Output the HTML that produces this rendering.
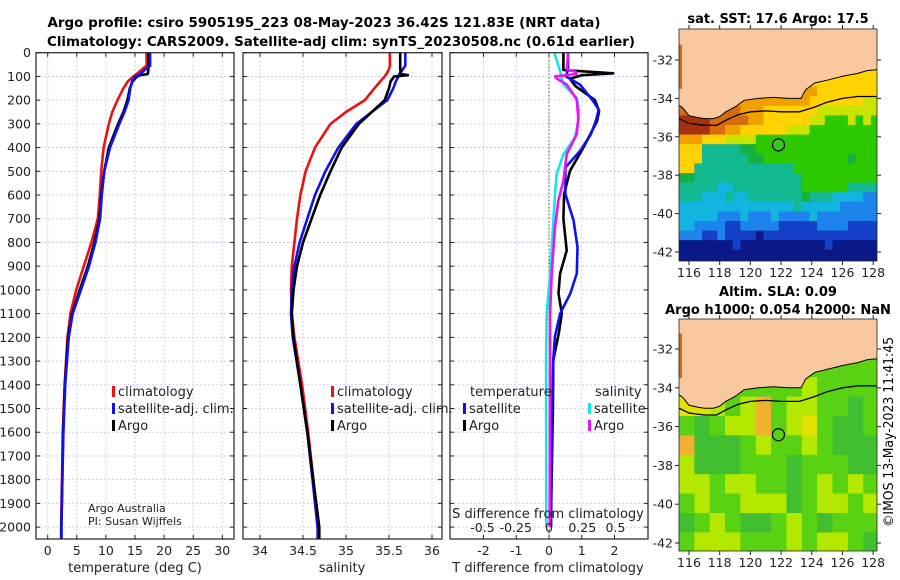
<!DOCTYPE html>
<html><head><meta charset="utf-8"><style>
html,body{margin:0;padding:0;background:#fff;}
svg{display:block;font-family:"DejaVu Sans","Liberation Sans",sans-serif;}
</style></head><body>
<svg id="fig" width="900" height="580" viewBox="0 0 900 580">
<g id="p1"></g>
<g id="p2"></g>
<g id="p3"></g>
<g id="m1"></g>
<g id="m2"></g>
<text x="324" y="27" font-size="13" font-weight="bold" textLength="553" lengthAdjust="spacingAndGlyphs" text-anchor="middle">Argo profile: csiro 5905195_223 08-May-2023 36.42S 121.83E (NRT data)</text>
<text x="341" y="46" font-size="13" font-weight="bold" textLength="588" lengthAdjust="spacingAndGlyphs" text-anchor="middle">Climatology: CARS2009. Satellite-adj clim: synTS_20230508.nc (0.61d earlier)</text>
<text x="778" y="23" font-size="13" font-weight="bold" text-anchor="middle">sat. SST: 17.6 Argo: 17.5</text>
<text x="778" y="296" font-size="13" font-weight="bold" text-anchor="middle">Altim. SLA: 0.09</text>
<text x="778" y="314" font-size="13" font-weight="bold" text-anchor="middle">Argo h1000: 0.054 h2000: NaN</text>
<text transform="translate(893,432) rotate(-90)" font-size="13" text-anchor="middle" textLength="190" lengthAdjust="spacingAndGlyphs">©IMOS 13-May-2023 11:41:45</text>
</svg>
<script>
// ---------- profile data ----------
const depthTS = [0,55,70,90,95,100,120,150,200,250,300,400,500,600,700,800,900,1000,1100,1200,1400,1600,1800,2000,2050];
const tempClim = [17.0,17.0,16.2,15.3,15.0,14.7,13.8,13.0,12.0,11.1,10.5,9.6,9.2,8.95,8.6,7.5,6.2,4.9,3.9,3.4,2.9,2.6,2.45,2.3,2.3];
const tempSat  = [17.6,17.6,16.8,15.9,15.5,15.0,14.5,14.2,13.9,13.2,12.3,10.7,9.7,9.3,9.0,8.2,7.1,5.7,4.3,3.6,3.0,2.7,2.5,2.35,2.35];
const tempArgo = [17.3,17.3,17.3,17.2,15.8,15.4,14.6,14.1,13.7,13.0,12.1,10.5,9.7,9.2,8.9,8.0,6.9,5.5,4.2,3.5,2.95,2.65,2.5,2.35,2.35];
const salClim = [35.51,35.51,35.5,35.47,35.46,35.45,35.4,35.33,35.22,35.0,34.82,34.64,34.53,34.47,34.43,34.40,34.37,34.36,34.37,34.40,34.49,34.56,34.62,34.67,34.69];
const salSat  = [35.69,35.69,35.66,35.62,35.62,35.61,35.58,35.55,35.48,35.3,35.12,34.91,34.76,34.64,34.55,34.46,34.40,34.37,34.36,34.38,34.47,34.55,34.61,34.67,34.67];
const salArgo = [35.63,35.63,35.63,35.64,35.72,35.56,35.52,35.5,35.45,35.3,35.15,34.95,34.82,34.70,34.60,34.50,34.43,34.39,34.37,34.39,34.47,34.55,34.62,34.69,34.69];
const dTsatDepth = [0,70,100,135,204,240,288,344,414,484,596,708,820,931,1015,1100,1197,1295,1500,1800,2000];
const dTsatVal   = [0.58,0.58,0.52,0.95,1.35,1.52,1.43,1.28,0.95,0.5,0.5,0.75,0.87,0.85,0.65,0.34,0.18,0.13,0.1,0.07,0.06];
const dTargoDepth = [0,73,80,87,95,110,140,200,246,288,400,498,596,700,834,931,1015,1100,1183,1295,1500,1800,2000];
const dTargoVal   = [0.44,0.44,1.2,1.96,1.0,0.64,0.8,1.40,1.53,1.47,1.05,0.64,0.46,0.44,0.54,0.34,0.29,0.39,0.30,0.13,0.12,0.08,0.06];
const dSsatDepth = [0,70,134,190,232,288,358,428,512,596,708,931,1100,1295,2000];
const dSsatVal   = [0.04,0.08,0.108,0.208,0.223,0.22,0.195,0.108,0.058,0.045,0.033,0.008,-0.017,-0.022,-0.02];
const dSargoDepth = [0,70,80,90,100,110,134,197,274,344,428,540,624,736,931,1100,1300,2000];
const dSargoVal   = [0.145,0.133,0.2,0.208,0.045,0.06,0.133,0.208,0.22,0.208,0.133,0.108,0.07,0.045,0.02,0.008,0.008,0.005];
const depthTicks = [0,100,200,300,400,500,600,700,800,900,1000,1100,1200,1300,1400,1500,1600,1700,1800,1900,2000];
const tempTicks = [0,5,10,15,20,25,30];
const salTicks = [34,34.5,35,35.5,36];
const salTickLabels = ["34","34.5","35","35.5","36"];
const dTTicks = [-2,-1,0,1,2];
const dSTicks = [-0.5,-0.25,0,0.25,0.5];
const dSTickLabels = ["-0.5","-0.25","0","0.25","0.5"];
// ---------- map data (0.5 deg cells for SST, 1 deg cells for SLA) ----------
const sstRows = [
"yyyyyyyyyyyyyyyyyyyyyyyyyy","yyyyyyyyyyyyyyyyyyyyyyyyyy","yyyyyyyyyyyyyyyyyyyyyyyyyy",
"yyyyyyyyyyyyyyyyyyyyyyyyyy","yyyyyyyyyyyyyyyyyyyyyyyyyy","yyyyyyyyyyyyyyyyyyyyyyyyyy",
"yyyyyyyyyyyyyyyyOOyyyyyyyy","OOOOOOOOOOOOOOOOOyyyyyyyYY","ooooooooOOOyyyyyyyYYYYYYYY",
"rrrroooooOOyyyyyyYYgggYgYg","rrrrooOOyyyyyyYYYggggggggg","OOOyyyYYYYgggggggggggggggg",
"yyytttttGGgggggggggggggggg","yyyttttttGGgggggggggggGggg","yytttttttttttttggggggggggg",
"GGttttttttttttttgggggggggg","tttttcctttttttttggggggtttt","tttccctcctttttttGtttccccbb",
"ccccccccccccccctcccccbbbbb","cccccbbbcbbbcbbbbcbbbbbbbb","ccbbbbBBbbbbbBBBBBbbbbBBBB",
"bbbBBbBBBBnBBBBBBBBBBBBBBB","nnnnnnnBnnnnnnnnnnnBnnnnnn","nnnnnnnnnnnnnnnnnnnnnnnnnn","nnnnnnnnnnnnnnnnnnnnnnnnnn"];
const slaRows = [
"MMMMMMMMMMMMM","MMMMMMMMMMMMM","MMMMMMMMMMMMM","MMMMMMMMYMMMM",
"yyYMYOMYYMMGM","MGMYYOMYyMGGM","OGGGMYMMYMGGG","YGGGMMMGMMMGG",
"YYMYYMMGMYMYM","MYMMYYYGMYYMY","GMYMGGMYMGMMM","MYYYMMMYMYYMG","MYYYMMMYMYYMG"];
const coastLon = [115.35,115.6,116,116.6,117,117.6,118,118.4,119,119.6,120.5,121.5,122.5,123.3,123.6,124.2,125,126,127,127.6,128.25];
const coastLat = [-34.35,-34.5,-34.9,-35.0,-35.05,-35.05,-34.95,-34.7,-34.45,-34.1,-34.0,-33.95,-34.0,-34.0,-33.55,-33.2,-33.05,-32.85,-32.7,-32.55,-32.5];
const shelfLon = [115.35,116,117,117.8,118.5,119.2,120,121,122,123.2,124.2,125,126,127,128.25];
const shelfLat = [-35.05,-35.3,-35.4,-35.4,-35.1,-34.85,-34.7,-34.65,-34.7,-34.7,-34.45,-34.2,-34.0,-33.9,-33.9];
const argoLon = 121.83, argoLat = -36.42;
const mapLatTicks = [-32,-34,-36,-38,-40,-42];
const mapLonTicks = [116,118,120,122,124,126,128];

const NS='http://www.w3.org/2000/svg';
function mk(parent,tag,attrs){const e=document.createElementNS(NS,tag);for(const k in attrs)e.setAttribute(k,attrs[k]);parent.appendChild(e);return e;}
const yTop=52.7, pxPerM=0.2372, yBot=539;
const yD = d => yTop + d*pxPerM;

function panel(g, x0, x1, xs, gridX, name){
  const clipId='clip'+name;
  const cp=mk(g,'clipPath',{id:clipId}); mk(cp,'rect',{x:x0,y:yTop,width:x1-x0,height:yBot-yTop});
  const grid=mk(g,'g',{stroke:'#c4c4e4','stroke-width':0.8,'stroke-dasharray':'2,2'});
  
  
  gridX.forEach(v=>mk(grid,'line',{x1:xs(v),x2:xs(v),y1:yTop,y2:yBot}));
  depthTicks.forEach(d=>mk(grid,'line',{x1:x0,x2:x1,y1:yD(d),y2:yD(d)}));
  const ticks=mk(g,'g',{stroke:'#222','stroke-width':1});
  gridX.forEach(v=>{mk(ticks,'line',{x1:xs(v),x2:xs(v),y1:yBot,y2:yBot-4});mk(ticks,'line',{x1:xs(v),x2:xs(v),y1:yTop,y2:yTop+4});});
  depthTicks.forEach(d=>{mk(ticks,'line',{x1:x0,x2:x0+4,y1:yD(d),y2:yD(d)});mk(ticks,'line',{x1:x1,x2:x1-4,y1:yD(d),y2:yD(d)});});
  const lines=mk(g,'g',{'clip-path':'url(#'+clipId+')'});
  const box=mk(g,'rect',{x:x0,y:yTop,width:x1-x0,height:yBot-yTop,fill:'none',stroke:'#222','stroke-width':1.2});
  
  
  return lines;
}
function series(g, depths, vals, xs, color, w, name){
  const pts=depths.map((d,i)=>xs(vals[i]).toFixed(1)+','+yD(d).toFixed(1)).join(' ');
  const p=mk(g,'polyline',{points:pts,fill:'none',stroke:color,'stroke-width':w,'stroke-linejoin':'round'});
  
  
}
function txt(g,x,y,s,size,anchor,name,extra){
  const t=mk(g,'text',Object.assign({x:x,y:y,'font-size':size,'text-anchor':anchor||'start',fill:'#222'},extra||{}));
  t.textContent=s;
  
  
  return t;
}
function legendItem(g,x,y,color,label,name){
  const r=mk(g,'rect',{x:x,y:y-10,width:3,height:11,fill:color});
  
  
  txt(g,x+6,y,label,13,'start',name+'-label');
}

// Panel 1
const p1=document.getElementById('p1');
const xT = v => 47.7 + v*5.82;
const l1=panel(p1,36,234,xT,tempTicks,'temp');
series(l1,depthTS,tempClim,xT,'#ee1010',2.6,'temp-climatology-line');
series(l1,depthTS,tempArgo,xT,'#000',2.6,'temp-argo-line');
series(l1,depthTS,tempSat,xT,'#1010f0',2.6,'temp-satellite-line');
depthTicks.forEach(d=>txt(p1,31,yD(d)+4.5,String(d),12.5,'end','depth-tick-label'));
tempTicks.forEach(v=>txt(p1,xT(v),555,String(v),12.5,'middle','temp-tick-label'));
txt(p1,135,572,'temperature (deg C)',13,'middle','temp-axis-title');
legendItem(p1,112,396,'#ee1010','climatology','legend-temp-climatology');
legendItem(p1,112,413,'#1010f0','satellite-adj. clim.','legend-temp-satellite');
legendItem(p1,112,430,'#000','Argo','legend-temp-argo');
txt(p1,88,512,'Argo Australia',11,'start','credit-argo-australia');
txt(p1,88,525,'PI: Susan Wijffels',11,'start','credit-pi');

// Panel 2
const p2=document.getElementById('p2');
const xS = v => 260 + (v-34)*86;
const l2=panel(p2,243,442,xS,salTicks,'sal');
series(l2,depthTS,salClim,xS,'#ee1010',2.6,'sal-climatology-line');
series(l2,depthTS,salSat,xS,'#1010f0',2.6,'sal-satellite-line');
series(l2,depthTS,salArgo,xS,'#000',2.6,'sal-argo-line');
salTicks.forEach((v,i)=>txt(p2,xS(v),555,salTickLabels[i],12.5,'middle','sal-tick-label'));
txt(p2,342,572,'salinity',13,'middle','sal-axis-title');
legendItem(p2,331,396,'#ee1010','climatology','legend-sal-climatology');
legendItem(p2,331,413,'#1010f0','satellite-adj. clim.','legend-sal-satellite');
legendItem(p2,331,430,'#000','Argo','legend-sal-argo');

// Panel 3
const p3=document.getElementById('p3');
const xdT = v => 549 + v*32.75;
const xdS = v => 549 + v*133;
const l3=panel(p3,450,648,xdT,dTTicks,'diff');
const zl=mk(l3,'line',{x1:549,x2:549,y1:yTop,y2:yBot,stroke:'#3a5a2a','stroke-width':1,'stroke-dasharray':'1.5,2'});


series(l3,dTargoDepth,dTargoVal,xdT,'#000',2.6,'dT-argo-line');
series(l3,dTsatDepth,dTsatVal,xdT,'#1010f0',2.6,'dT-satellite-line');
series(l3,dSsatDepth,dSsatVal,xdS,'#10e8e8',2.6,'dS-satellite-line');
series(l3,dSargoDepth,dSargoVal,xdS,'#f010f0',2.6,'dS-argo-line');
dTTicks.forEach(v=>txt(p3,xdT(v),555,String(v),12.5,'middle','dT-tick-label'));
dSTicks.forEach((v,i)=>txt(p3,xdS(v),532,dSTickLabels[i],12.5,'middle','dS-tick-label'));
txt(p3,548,518,'S difference from climatology',13,'middle','dS-axis-title');
txt(p3,548,572,'T difference from climatology',13,'middle','dT-axis-title');
txt(p3,470,396,'temperature',13,'start','legend-temperature-heading');
legendItem(p3,463,413,'#1010f0','satellite','legend-dT-satellite');
legendItem(p3,463,430,'#000','Argo','legend-dT-argo');
txt(p3,595,396,'salinity',13,'start','legend-salinity-heading');
legendItem(p3,588,413,'#10e8e8','satellite','legend-dS-satellite');
legendItem(p3,588,430,'#f010f0','Argo','legend-dS-argo');

// Maps
const sstColors={y:'#ffd200',O:'#f2a000',o:'#d86a10',r:'#a8300e',Y:'#c8e400',g:'#2cc800',G:'#14b040',t:'#12b890',c:'#12b4e0',b:'#1c84ec',B:'#1440c8',n:'#0a1888'};
const slaColors={M:'#5ad214',G:'#40c030',Y:'#b4e800',y:'#e4e000',O:'#f0b030'};
function drawMap(g,name,top,bottom,lat0y,pxLat,rows,colors,cell,circleFill){
  const left=679,right=877;
  const xL = lon => left + (lon-115.35)*15.35;
  const yL = lat => lat0y + (-32-lat)*pxLat;
  const cid='clip'+name;
  const cp=mk(g,'clipPath',{id:cid}); mk(cp,'rect',{x:left,y:top,width:right-left,height:bottom-top});
  const c=mk(g,'g',{'clip-path':'url(#'+cid+')'});
  const latTop = -32 + (lat0y-top)/pxLat;
  rows.forEach((row,r)=>{
    for(let k=0;k<row.length;k++){
      const lon=115.35+k*cell, lat=latTop-r*cell;
      const rc=mk(c,'rect',{x:xL(lon).toFixed(1),y:yL(lat).toFixed(1),width:(cell*15.35+0.6).toFixed(1),height:(cell*pxLat+0.6).toFixed(1),fill:colors[row[k]]});
      
      
    }
  });
  let d='M'+xL(coastLon[0])+','+yL(coastLat[0]);
  coastLon.forEach((lo,i)=>{d+=' L'+xL(lo).toFixed(1)+','+yL(coastLat[i]).toFixed(1);});
  d+=' L'+right+','+top+' L'+left+','+top+' Z';
  const land=mk(c,'path',{d:d,fill:'#f9c89e',stroke:'none'});
  
  
  const cl=mk(c,'polyline',{points:coastLon.map((lo,i)=>xL(lo).toFixed(1)+','+yL(coastLat[i]).toFixed(1)).join(' '),fill:'none',stroke:'#000','stroke-width':1});
  
  
  const sh=mk(c,'polyline',{points:shelfLon.map((lo,i)=>xL(lo).toFixed(1)+','+yL(shelfLat[i]).toFixed(1)).join(' '),fill:'none',stroke:'#000','stroke-width':1.3});
  
  
  const sl=mk(c,'rect',{x:left,y:yL(-31.2),width:3,height:(2.3*pxLat),fill:'#d86a10'});
  
  
  const ci=mk(c,'circle',{cx:xL(argoLon),cy:yL(argoLat),r:6,fill:circleFill,stroke:'#000','stroke-width':1.2});
  
  
  const tk=mk(g,'g',{stroke:'#222','stroke-width':1});
  mapLatTicks.forEach(la=>{mk(tk,'line',{x1:left,x2:left-4,y1:yL(la),y2:yL(la)});mk(tk,'line',{x1:right,x2:right+4,y1:yL(la),y2:yL(la)});
    txt(g,673,yL(la)+4.5,String(la),12.5,'end',name+'-lat-label');});
  mapLonTicks.forEach(lo=>{mk(tk,'line',{x1:xL(lo),x2:xL(lo),y1:bottom,y2:bottom+4});mk(tk,'line',{x1:xL(lo),x2:xL(lo),y1:top,y2:top-4});
    txt(g,xL(lo),bottom+16,String(lo),12.5,'middle',name+'-lon-label');});
  const bx=mk(g,'rect',{x:left,y:top,width:right-left,height:bottom-top,fill:'none',stroke:'#222','stroke-width':0.8});
  
  
}
drawMap(document.getElementById('m1'),'sst',29,261,60,19.2,sstRows,sstColors,0.5,'#38c820');
drawMap(document.getElementById('m2'),'sla',319,551,349,19.4,slaRows,slaColors,1,'#5ad214');
</script>
</body></html>
